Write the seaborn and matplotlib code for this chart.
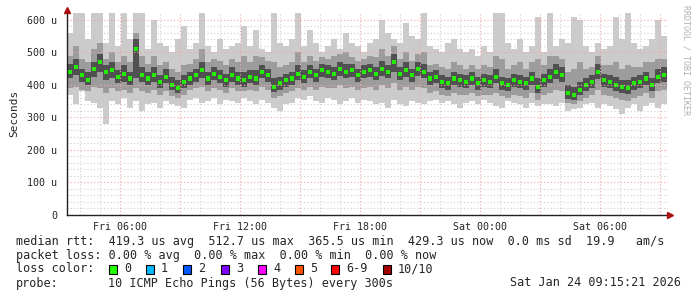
import numpy as np
import pandas as pd
import matplotlib
matplotlib.use("Agg")
import matplotlib.pyplot as plt
from matplotlib.patches import Rectangle
import seaborn as sns

# ---------------- data (microseconds, 18-minute steps from Fri 03:21) ----------------
med = [
    440, 455, 430, 415, 450, 470, 440, 445, 425, 435,
    420, 510, 430, 420, 430, 410, 425, 400, 390, 410,
    420, 430, 445, 420, 435, 425, 415, 430, 420, 415,
    425, 420, 440, 430, 395, 405, 415, 420, 435, 425,
    440, 430, 445, 440, 435, 450, 440, 445, 430, 440,
    445, 435, 450, 440, 470, 435, 445, 430, 450, 440,
    420, 425, 410, 405, 420, 415, 410, 420, 405, 415,
    410, 425, 405, 400, 415, 410, 405, 420, 395, 415,
    425, 440, 430, 375, 370, 385, 400, 410, 440, 415,
    410, 400, 395, 390, 405, 410, 420, 400, 425, 430,
]
hi = [
    560, 620, 620, 540, 620, 620, 530, 620, 520, 620,
    540, 620, 620, 510, 600, 530, 520, 500, 540, 580,
    510, 530, 620, 520, 500, 540, 510, 520, 530, 580,
    520, 570, 510, 500, 620, 530, 520, 540, 620, 520,
    570, 530, 500, 520, 540, 510, 560, 530, 520, 500,
    530, 540, 600, 560, 540, 530, 590, 550, 540, 620,
    520, 510, 500, 530, 540, 510, 500, 510, 490, 520,
    500, 620, 620, 530, 510, 540, 500, 520, 610, 500,
    620, 520, 540, 530, 610, 600, 520, 500, 530, 510,
    520, 610, 540, 620, 530, 510, 520, 540, 600, 550,
]
lo = [
    370, 340, 380, 350, 345, 330, 280, 350, 340, 360,
    330, 350, 320, 340, 345, 330, 350, 340, 335, 330,
    355, 360, 345, 350, 360, 340, 355, 350, 345, 360,
    350, 340, 355, 345, 330, 320, 340, 345, 360, 355,
    365, 350, 345, 360, 355, 340, 350, 360, 345, 355,
    350, 340, 345, 330, 355, 340, 335, 350, 345, 340,
    350, 355, 345, 350, 340, 330, 345, 350, 340, 355,
    345, 335, 330, 350, 345, 340, 330, 345, 335, 340,
    340, 335, 345, 320, 325, 330, 340, 345, 330, 340,
    335, 325, 310, 330, 340, 320, 335, 345, 330, 340,
]
mid_lo = [
    390, 395, 385, 380, 395, 390, 375, 390, 380, 385,
    375, 390, 380, 375, 385, 370, 380, 365, 360, 370,
    385, 390, 395, 380, 390, 385, 375, 390, 380, 380,
    385, 380, 395, 385, 360, 365, 375, 380, 390, 385,
    395, 385, 395, 390, 390, 400, 390, 395, 385, 390,
    395, 385, 400, 390, 405, 385, 395, 385, 395, 390,
    375, 380, 370, 365, 375, 370, 370, 375, 365, 370,
    370, 375, 365, 360, 370, 365, 360, 375, 355, 370,
    375, 385, 380, 345, 340, 350, 360, 370, 385, 370,
    365, 360, 355, 350, 360, 365, 375, 360, 380, 385,
]
mid_hi = [
    490, 520, 480, 470, 510, 530, 480, 500, 470, 490,
    470, 560, 490, 465, 490, 460, 470, 450, 440, 460,
    465, 480, 510, 470, 480, 475, 460, 480, 470, 490,
    470, 490, 485, 475, 470, 455, 460, 470, 500, 470,
    490, 475, 485, 480, 490, 495, 500, 485, 475, 480,
    490, 485, 510, 490, 520, 480, 500, 475, 495, 500,
    460, 465, 455, 450, 470, 460, 450, 460, 450, 460,
    455, 490, 480, 450, 460, 470, 450, 470, 480, 460,
    490, 490, 480, 440, 450, 470, 450, 455, 490, 460,
    460, 470, 450, 460, 455, 455, 470, 470, 480, 480,
]
q_lo = [
    420, 430, 410, 400, 425, 440, 415, 420, 405, 410,
    400, 420, 410, 400, 410, 390, 405, 385, 375, 390,
    400, 410, 420, 400, 415, 405, 395, 410, 400, 395,
    405, 400, 420, 410, 378, 385, 395, 400, 415, 405,
    420, 410, 425, 420, 415, 428, 420, 425, 410, 420,
    425, 415, 428, 420, 440, 415, 425, 410, 428, 420,
    400, 405, 390, 385, 400, 395, 390, 400, 385, 395,
    390, 405, 385, 380, 395, 390, 385, 400, 375, 395,
    405, 418, 410, 358, 355, 368, 382, 390, 418, 395,
    390, 380, 375, 372, 385, 390, 400, 382, 405, 410,
]
q_hi = [
    465, 480, 450, 440, 470, 495, 460, 470, 445, 460,
    440, 540, 455, 440, 455, 430, 450, 425, 415, 430,
    440, 450, 470, 440, 455, 445, 435, 455, 440, 440,
    445, 445, 460, 450, 420, 425, 435, 440, 460, 445,
    460, 450, 465, 460, 455, 470, 465, 465, 450, 460,
    465, 455, 475, 460, 495, 455, 470, 450, 470, 465,
    440, 445, 430, 425, 440, 435, 430, 440, 425, 435,
    430, 450, 425, 420, 435, 430, 425, 440, 420, 435,
    450, 465, 455, 400, 395, 410, 420, 430, 465, 435,
    430, 425, 415, 415, 425, 430, 440, 420, 450, 455,
]

x_tick_hours = [6, 12, 18, 24, 30]
x_tick_labels = ["Fri 06:00", "Fri 12:00", "Fri 18:00", "Sat 00:00", "Sat 06:00"]
y_tick_values = [0, 100, 200, 300, 400, 500, 600]
y_tick_labels = ["0", "100 u", "200 u", "300 u", "400 u", "500 u", "600 u"]

legend_line1 = "median rtt:  419.3 us avg  512.7 us max  365.5 us min  429.3 us now  0.0 ms sd  19.9   am/s"
legend_line2 = "packet loss: 0.00 % avg  0.00 % max  0.00 % min  0.00 % now"
loss_labels = ["0", "1", "2", "3", "4", "5", "6-9", "10/10"]
loss_colors = ["#22ff00", "#00b8ff", "#0059ff", "#7e00ff", "#ff00ff", "#ff5500", "#ff0000", "#a10000"]
probe_text = "10 ICMP Echo Pings (56 Bytes) every 300s"
stamp_text = "Sat Jan 24 09:15:21 2026"

# ---------------- plotting ----------------
sns.set_style("white")
plt.rcParams["font.family"] = ["DejaVu Sans Mono", "DejaVu Sans"]

START_H, STEP_H = 3.35, 0.3
W, H = 697, 297
fig = plt.figure(figsize=(W / 100, H / 100), dpi=100)
fig.patch.set_facecolor("white")
ax = fig.add_axes([67 / W, 1 - 215 / H, 601 / W, 203 / H])

df = pd.DataFrame({"med": med, "hi": hi, "lo": lo, "mid_lo": mid_lo,
                   "mid_hi": mid_hi, "q_lo": q_lo, "q_hi": q_hi})
df["t"] = START_H + STEP_H * np.arange(len(df))
te = np.append(df["t"].values, df["t"].values[-1] + STEP_H)


def ext(col):
    v = df[col].values
    return np.append(v, v[-1])


ax.fill_between(te, ext("lo"), ext("hi"), step="post", color="#cbcbcb", lw=0, zorder=1)
ax.fill_between(te, ext("mid_lo"), ext("mid_hi"), step="post", color="#9c9c9c", lw=0, zorder=2)
ax.fill_between(te, ext("q_lo"), ext("q_hi"), step="post", color="#505050", lw=0, zorder=3)

df["tc"] = df["t"] + STEP_H / 2
sns.scatterplot(data=df, x="tc", y="med", marker="s", s=9, color="#22ee00",
                edgecolor="none", linewidth=0, ax=ax, zorder=6, legend=False)

ax.set_xlim(START_H, START_H + 30.05)
ax.set_ylim(0, 624.6)

# grid: minor gray behind the smoke, major red on top (rrdtool style)
for h in range(4, 34):
    if h % 3 == 0:
        ax.axvline(h, color="#f2a6a6", lw=0.8, ls=(0, (1, 2)), zorder=7)
    else:
        ax.axvline(h, color="#cfcfcf", lw=0.8, ls=(0, (1, 2)), zorder=0.5)
for v in range(20, 620, 20):
    if v % 100 == 0:
        ax.axhline(v, color="#f2a6a6", lw=0.8, ls=(0, (1, 2)), zorder=7)
    else:
        ax.axhline(v, color="#cfcfcf", lw=0.8, ls=(0, (1, 2)), zorder=0.5)

ax.set_xticks(x_tick_hours)
ax.set_xticklabels(x_tick_labels, fontsize=7.2)
ax.set_yticks(y_tick_values)
ax.set_yticklabels(y_tick_labels, fontsize=7.2)
ax.tick_params(axis="x", length=3, width=0.8, color="#222222", pad=2)
ax.tick_params(axis="y", length=3, width=0.8, color="#222222", pad=4)
ax.set_xlabel("")
ax.set_ylabel("Seconds", fontsize=8, labelpad=6)

for s in ["top", "right"]:
    ax.spines[s].set_visible(False)
for s in ["left", "bottom"]:
    ax.spines[s].set_color("#222222")
    ax.spines[s].set_linewidth(1.0)
    ax.spines[s].set_zorder(8)

ax.plot([0], [1.01], marker="^", color="#aa1111", markersize=4, transform=ax.transAxes,
        clip_on=False, zorder=9)
ax.plot([1.003], [0], marker=">", color="#aa1111", markersize=4, transform=ax.transAxes,
        clip_on=False, zorder=9)

fig.text(686 / W, 1 - 5 / H, "RRDTOOL / TOBI OETIKER", rotation=270, ha="center", va="top",
         fontsize=6, color="#b0b0b0")

FS = 8.5
fig.text(16 / W, 1 - 241 / H, legend_line1, ha="left", va="center", fontsize=FS)
fig.text(16 / W, 1 - 255 / H, legend_line2, ha="left", va="center", fontsize=FS)
fig.text(16 / W, 1 - 269 / H, "loss color:", ha="left", va="center", fontsize=FS)
box_x = [109, 146, 183, 221, 258, 295, 331, 383]
for bx, lab, col in zip(box_x, loss_labels, loss_colors):
    fig.patches.append(Rectangle((bx / W, 1 - 273.5 / H), 8 / W, 9 / H, transform=fig.transFigure,
                                 facecolor=col, edgecolor="black", lw=0.8))
    fig.text((bx + 15) / W, 1 - 269 / H, lab, ha="left", va="center", fontsize=FS)
fig.text(16 / W, 1 - 283 / H, "probe:", ha="left", va="center", fontsize=FS)
fig.text(108 / W, 1 - 283 / H, probe_text, ha="left", va="center", fontsize=FS)
fig.text(681 / W, 1 - 283 / H, stamp_text, ha="right", va="center", fontsize=FS)

fig.savefig("out.png", dpi=100, facecolor="white")
